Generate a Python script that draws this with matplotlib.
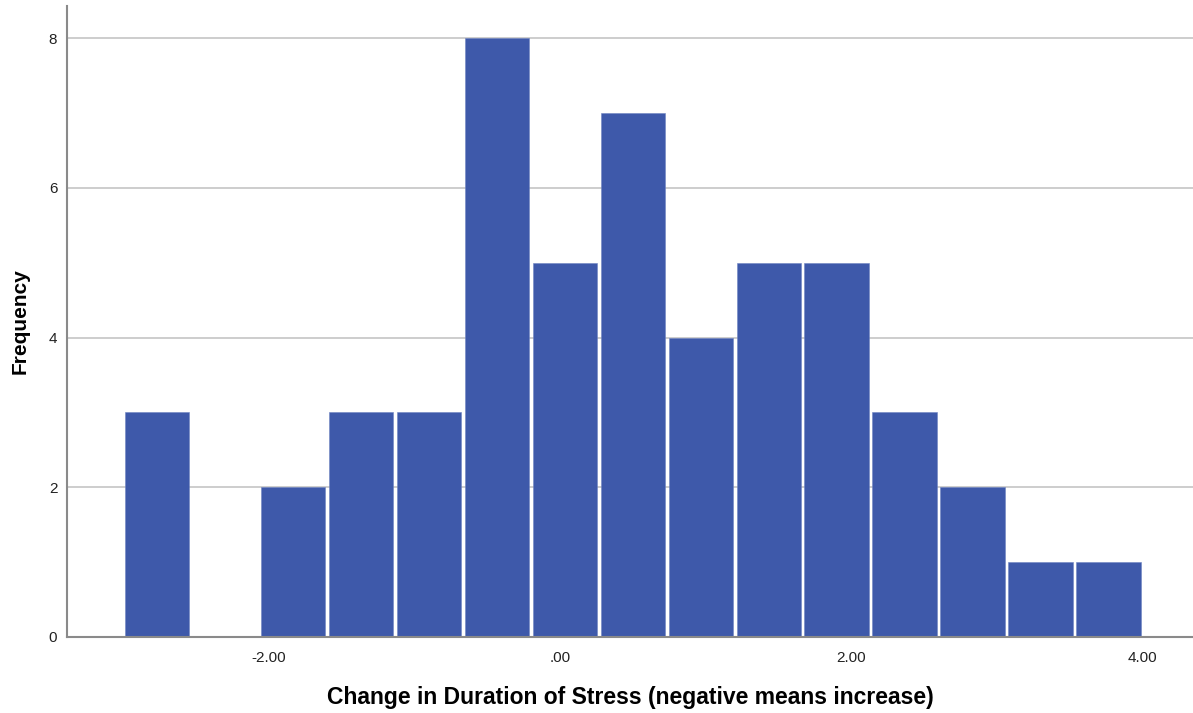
import numpy as np
import matplotlib
matplotlib.use("Agg")
import matplotlib.pyplot as plt

# Histogram of change scores: 15 equal bins spanning -3 to 4
bin_low, bin_high, n_bins = -3.0, 4.0, 15
counts = [3, 0, 2, 3, 3, 8, 5, 7, 4, 5, 5, 3, 2, 1, 1]

x_ticks = [-2, 0, 2, 4]
x_tick_labels = ["-2.00", ".00", "2.00", "4.00"]
y_ticks = [0, 2, 4, 6, 8]
y_tick_labels = ["0", "2", "4", "6", "8"]

x_label = "Change in Duration of Stress (negative means increase)"
y_label = "Frequency"

bar_color = "#3E59AA"
grid_color = "#C9C9C9"
axis_color = "#8A8A8A"

plt.rcParams["font.family"] = ["Liberation Sans", "DejaVu Sans"]

fig = plt.figure(figsize=(11.93, 7.13), dpi=100)
ax = fig.add_axes([0.0562, 0.1066, 0.9438, 0.885])

ax.set_xlim(-3.386, 4.347)
ax.set_ylim(0, 8.43)

# white separation between neighbouring bars, about 3.5 px wide
px_per_unit = ax.get_position().width * fig.get_figwidth() * fig.dpi / (4.347 + 3.386)
gap = 3.5 / px_per_unit

edges = np.linspace(bin_low, bin_high, n_bins + 1)
widths = np.diff(edges)
ax.bar(edges[:-1] + gap / 2, counts, width=widths - gap, align="edge",
       color=bar_color, edgecolor="#6F84C2", linewidth=0.4, zorder=2)

ax.set_yticks(y_ticks)
ax.set_yticklabels(y_tick_labels)
ax.set_xticks(x_ticks)
ax.set_xticklabels(x_tick_labels)
ax.tick_params(axis="both", length=0, labelsize=11, colors="#222222")
ax.tick_params(axis="y", pad=7)
ax.tick_params(axis="x", pad=10)

ax.yaxis.grid(True, color=grid_color, linewidth=1.3, zorder=0)
ax.set_axisbelow(True)

for side in ("top", "right"):
    ax.spines[side].set_visible(False)
for side in ("left", "bottom"):
    ax.spines[side].set_color(axis_color)
    ax.spines[side].set_linewidth(1.5)
    ax.spines[side].set_zorder(3)

ax.set_xlabel(x_label, fontsize=16.5, fontweight="bold", labelpad=15)
ax.set_ylabel(y_label, fontsize=15, fontweight="bold", labelpad=14)

fig.savefig("out.png", dpi=100, facecolor="white")
